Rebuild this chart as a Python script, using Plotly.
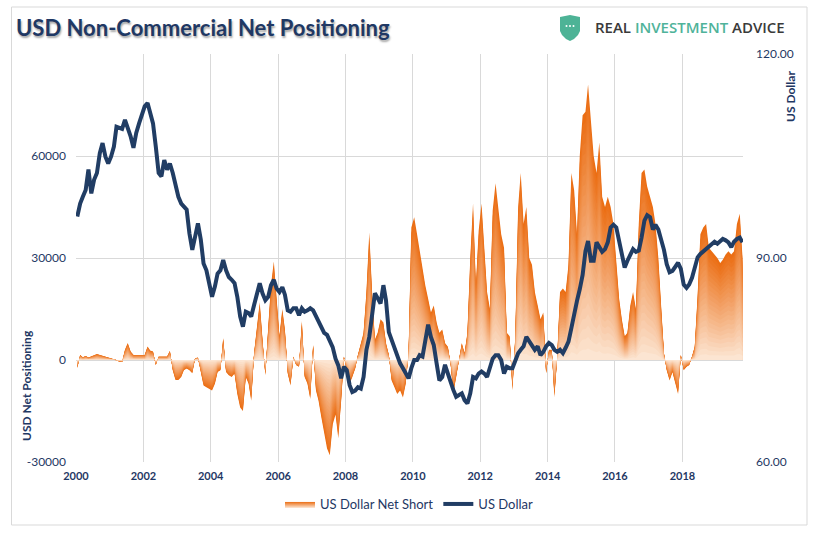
import pandas as pd
import plotly.graph_objects as go

# ---------------- data (monthly readings, Jan 2000 - Oct 2019) ----------------
net_2000_2004 = [
    -2400, 1500, 800, 1200, 700, 1000, 1500, 1800, 1500, 1200, 1000, 600,
    400, 200, 0, -500, -600, 3000, 5000, 2500, 1500, 1500, 1500, 1500,
    1500, 4000, 2800, 2500, -1500, 1000, 1000, 800, 1000, 2700, -3000, -5900,
    -5900, -5000, -3000, -2500, -3000, -3900, 500, 700, -3000, -7500, -8000, -8500,
    -9000, -7000, -3500, -3000, 6500, -3500, -4500, -5000, -4000, -10000, -14000, -15000,
]
net_2005_2009 = [
    -5000, -7000, -12000, 2000, 10000, 17000, 6000, -4500, 9500, 22000, 29000, 18000,
    7000, 15000, 9000, -4000, -7500, 1000, -1500, -2000, 11500, -5000, -7000, -11500,
    4500, -9000, -12000, -17000, -21000, -26000, -28000, -19000, -16000, -23000, -12000, 1000,
    -3000, -7000, -5000, -2500, 1500, 5000, 8000, 20000, 37500, 20000, 6000, 8000,
    12000, 11000, 5000, 1500, -6000, -8000, -10000, -9000, -11000, -7000, 2000, 39000,
]
net_2010_2014 = [
    42000, 37000, 32000, 27000, 22000, 18000, 14000, 16000, 11000, 8000, 9000, 5000,
    3900, -1500, -9800, -5000, 500, 5000, 2000, 8000, 30000, 46000, 22000, 38000,
    46000, 32000, 20000, 15000, 44000, 52000, 45000, 37000, 33000, 8000, 7000, -9000,
    7000, 45000, 55000, 40000, 45000, 30000, 28000, 20000, 16000, 12000, 14000, -4000,
    3000, 3000, -11000, 1000, 20000, 21000, 20000, 28000, 55000, 50000, 37000, 60000,
]
net_2015_2019 = [
    72000, 73000, 81000, 70000, 60000, 55000, 64000, 48000, 45000, 48000, 45000, 40000,
    30000, 18000, 12000, 7000, 8000, 16000, 20000, 15000, 40000, 55000, 56000, 51000,
    48000, 45000, 40000, 30000, 16000, 2000, -3000, -6000, -3500, -7000, -10000, 1500,
    -3000, -2000, -1500, 1000, 4000, 19000, 37000, 39000, 40000, 33000, 32000, 31000,
    30000, 28500, 29500, 31000, 32000, 31000, 32000, 40000, 43000, 30000,
]
usd_2000_2004 = [
    96.1, 98.0, 99.0, 100.0, 103.0, 99.5, 101.5, 102.5, 105.4, 106.9, 104.9, 103.9,
    104.9, 106.4, 109.3, 109.1, 109.0, 110.3, 109.3, 107.9, 106.2, 108.4, 109.8, 111.3,
    112.3, 112.8, 111.3, 109.8, 106.4, 102.5, 102.0, 104.4, 103.0, 103.9, 102.5, 100.5,
    99.0, 98.0, 97.6, 97.1, 93.6, 91.2, 93.1, 95.1, 92.7, 89.2, 88.2, 86.3,
    84.3, 85.8, 87.7, 88.2, 89.7, 88.2, 87.2, 86.8, 86.3, 84.3, 81.4, 79.9,
]
usd_2005_2009 = [
    82.1, 81.9, 81.4, 83.1, 85.0, 86.3, 84.8, 83.8, 84.3, 86.0, 86.8, 85.5,
    85.0, 85.7, 84.6, 82.3, 82.1, 82.6, 82.6, 81.6, 82.6, 82.1, 82.3, 82.6,
    82.3, 81.4, 80.6, 79.6, 79.0, 78.7, 77.9, 76.9, 75.2, 74.2, 72.3, 74.0,
    73.5, 71.3, 70.3, 70.5, 71.0, 70.8, 72.5, 76.5, 78.4, 81.9, 84.8, 84.1,
    83.3, 86.0, 83.8, 79.1, 77.9, 76.9, 75.5, 74.5, 73.8, 73.0, 72.3, 73.8,
]
usd_2010_2014 = [
    75.0, 75.0, 75.7, 75.5, 78.0, 80.2, 78.4, 77.2, 74.5, 72.0, 72.5, 74.3,
    73.0, 71.6, 70.6, 69.6, 69.8, 70.1, 69.1, 68.6, 70.1, 72.5, 72.3, 73.0,
    73.3, 73.0, 72.5, 73.8, 75.2, 75.7, 75.7, 75.0, 73.0, 74.0, 73.8, 73.8,
    74.8, 76.0, 76.5, 77.0, 78.4, 77.7, 77.2, 76.5, 77.0, 75.7, 76.2, 77.0,
    77.5, 77.2, 76.5, 76.2, 76.5, 76.0, 76.8, 77.7, 79.7, 81.9, 83.7, 85.4,
]
usd_2015_2019 = [
    87.5, 91.0, 92.5, 89.6, 89.6, 92.3, 91.6, 90.9, 91.3, 92.3, 94.5, 94.9,
    94.5, 92.3, 90.6, 88.6, 89.6, 90.6, 91.3, 90.9, 91.1, 93.0, 95.5, 96.3,
    96.0, 94.2, 94.9, 94.2, 92.8, 91.2, 89.1, 87.9, 88.1, 88.8, 89.3, 88.4,
    86.1, 85.6, 86.1, 87.1, 88.6, 90.1, 90.6, 91.0, 91.3, 91.8, 92.0, 92.4,
    92.1, 92.5, 92.8, 92.6, 92.3, 91.6, 92.4, 92.8, 93.0, 92.3,
]
net_positioning = net_2000_2004 + net_2005_2009 + net_2010_2014 + net_2015_2019
us_dollar = usd_2000_2004 + usd_2005_2009 + usd_2010_2014 + usd_2015_2019

left_tickvals = [-30000, 0, 30000, 60000, 90000]
left_ticktext = ["-30000", "0", "30000", "60000", ""]
right_tickvals = [60, 90, 120]
series_names = ["US Dollar Net Short", "US Dollar"]

dates = pd.date_range("2000-01-01", periods=len(us_dollar), freq="MS") + pd.Timedelta(days=14)

# ---------------- styling ----------------
NAVY = "#1F3864"
LINE = "#213D64"
ORANGE = (235, 110, 20)
PEACH = (253, 236, 222)
FONT = "Lato, 'Open Sans', sans-serif"
W, H = 819, 533
ML, MR, MT, MB = 76, 76, 54, 71
PW, PH = W - ML - MR, H - MT - MB


def px(x):
    return (x - ML) / PW


def py(y):
    return (H - MB - y) / PH


def mix(s):
    c = [round(PEACH[i] + (ORANGE[i] - PEACH[i]) * s) for i in range(3)]
    return f"rgb({c[0]},{c[1]},{c[2]})"


fig = go.Figure()

# legend entry with gradient swatch
fig.add_trace(go.Scatter(
    x=[None], y=[None], mode="lines", name=series_names[0], fill="toself",
    fillcolor=mix(1.0), line=dict(width=0),
    fillgradient=dict(type="vertical", colorscale=[[0, mix(0.05)], [1, mix(1.0)]]),
    showlegend=True, hoverinfo="skip",
))

# per-bar gradient: stacked scaled copies, outermost (full orange) first
N = 24
for j in range(N):
    s = 1 - j / N
    fig.add_trace(go.Scatter(
        x=dates, y=[v * s for v in net_positioning], mode="lines",
        line=dict(width=0), fill="tozeroy", fillcolor=mix(s ** 0.9),
        showlegend=False, hoverinfo="skip", yaxis="y",
    ))

fig.add_trace(go.Scatter(
    x=dates, y=us_dollar, mode="lines", name=series_names[1],
    line=dict(color=LINE, width=4), yaxis="y2",
))

grid = "#D9D9D9"
tickfont = dict(family=FONT, size=12, color=NAVY)
fig.update_layout(
    width=W, height=H,
    margin=dict(l=ML, r=MR, t=MT, b=MB),
    paper_bgcolor="white", plot_bgcolor="white",
    showlegend=True,
    legend=dict(orientation="h", x=0.5, xanchor="center", y=py(504), yanchor="middle",
                font=dict(family=FONT, size=13, color=NAVY), itemwidth=30,
                traceorder="normal", bgcolor="rgba(0,0,0,0)"),
    xaxis=dict(type="date", range=["2000-01-01", "2019-10-20"],
               tick0="2000-01-01", dtick="M24", tickformat="%Y",
               showgrid=True, gridcolor=grid, gridwidth=1, zeroline=False,
               showline=False, ticks="", tickfont=dict(family=FONT, size=11, color=NAVY, weight="bold"),
               ticklabelstandoff=6),
    yaxis=dict(range=[-30000, 90000], tickvals=left_tickvals, ticktext=left_ticktext,
               showgrid=True, gridcolor=grid, gridwidth=1, zeroline=False, showline=False,
               ticks="", tickfont=tickfont, ticklabelstandoff=9),
    yaxis2=dict(range=[60, 120], tickvals=right_tickvals, tickformat=".2f",
                overlaying="y", side="right", showgrid=False, zeroline=False,
                showline=False, ticks="", tickfont=tickfont, ticklabelstandoff=12),
)

annotations = [
    dict(text="USD Non-Commercial Net Positioning", x=px(14), y=py(27), xref="paper", yref="paper",
         xanchor="left", yanchor="middle", showarrow=False,
         font=dict(family=FONT, size=22, color=NAVY, weight="bold",
                   shadow="1px 2px 2px rgba(0,0,0,0.35)")),
    dict(text="REAL <span style='color:#4FB39A'>INVESTMENT</span> ADVICE", x=px(593), y=py(27),
         xref="paper", yref="paper", xanchor="left", yanchor="middle", showarrow=False,
         font=dict(family="'Open Sans', sans-serif", size=15, color="#3A3A3A", weight=600)),
    dict(text="USD Net Positioning", x=px(26), y=py(386), xref="paper", yref="paper",
         textangle=-90, showarrow=False, xanchor="center", yanchor="middle",
         font=dict(family=FONT, size=12, color=NAVY, weight="bold")),
    dict(text="US Dollar", x=px(791), y=py(97), xref="paper", yref="paper",
         textangle=-90, showarrow=False, xanchor="center", yanchor="middle",
         font=dict(family=FONT, size=12, color=NAVY, weight="bold")),
]
fig.update_layout(annotations=annotations)


def path(points):
    return "M " + " L ".join(f"{px(a):.5f},{py(b):.5f}" for a, b in points) + " Z"


shield = [(560, 17), (570, 15), (580, 17), (580, 31), (578, 35), (574, 39), (570, 41),
          (566, 39), (562, 35), (560, 31)]
shapes = [
    dict(type="rect", xref="paper", yref="paper", x0=px(11.5), x1=px(807), y0=py(525), y1=py(7),
         line=dict(color="#D9D9D9", width=1), fillcolor="rgba(0,0,0,0)", layer="below"),
    dict(type="path", xref="paper", yref="paper", path=path(shield),
         fillcolor="#4DB396", line=dict(width=0)),
]
for cx in (566.5, 570, 573.5):
    shapes.append(dict(type="circle", xref="paper", yref="paper",
                       x0=px(cx - 1), x1=px(cx + 1), y0=py(27), y1=py(25),
                       fillcolor="white", line=dict(width=0)))
fig.update_layout(shapes=shapes)

fig.write_html("out.html", config={"displayModeBar": False},
               post_script="document.body.style.margin='0';document.body.style.padding='0';")
